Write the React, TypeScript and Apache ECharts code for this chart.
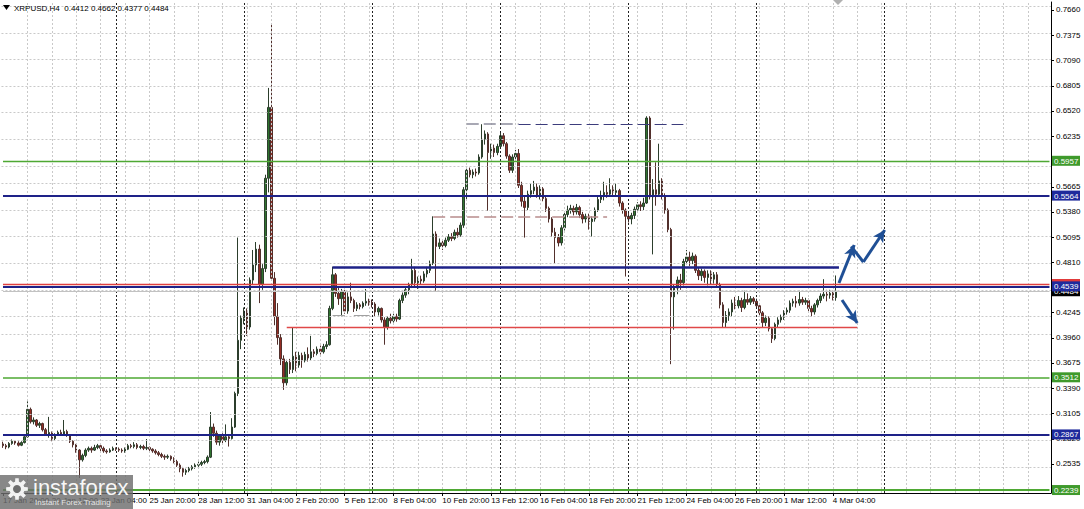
import React, { useEffect, useRef } from "react";
import * as echarts from "echarts";

const HEADER = "XRPUSD,H4  0.4412 0.4662 0.4377 0.4484";
const FIRST_BAR_UTC = Date.UTC(2021, 0, 17, 20, 0);
const BAR_MS = 4 * 3600 * 1000;
const SLOT_COUNT = 344;
const MONTHS = ["Jan", "Feb", "Mar", "Apr", "May", "Jun", "Jul", "Aug", "Sep", "Oct", "Nov", "Dec"];
const LABEL_EVERY = 16;
const LAST_LABEL_INDEX = 272;
const LIGHT_GRID_EVERY = 8;
const WEEK_SEPARATORS = [37, 79, 121, 163, 205, 247, 289];
const Y_MIN = 0.22055;
const Y_MAX = 0.77503;
const FONT = "Liberation Sans, Arial, sans-serif";
const PLOT_W = 1051;
const PLOT_TOP = 2;
const PLOT_H = 491;

// price grid; labels that sit fully under a level box are left blank as in the picture
const priceTicks = [0.766, 0.7375, 0.709, 0.6805, 0.652, 0.6235, 0.595, 0.5665, 0.538, 0.5095, 0.481, 0.4525, 0.4245, 0.396, 0.3675, 0.339, 0.3105, 0.282, 0.2535];
const priceTickLabels = ["0.7660", "0.7375", "0.7090", "0.6805", "0.6520", "0.6235", "", "0.5665", "0.5380", "0.5095", "0.4810", "", "0.4245", "0.3960", "0.3675", "0.3390", "0.3105", "0.2820", "0.2535"];

// [open, close, low, high]
const candles: number[][] = [
  [0.2760, 0.2740, 0.2715, 0.2785], [0.2740, 0.2725, 0.2700, 0.2760], [0.2725, 0.2765, 0.2710, 0.2780], [0.2765, 0.2790, 0.2750, 0.2810], [0.2790, 0.2770, 0.2750, 0.2800],
  [0.2770, 0.2745, 0.2730, 0.2790], [0.2745, 0.2775, 0.2735, 0.2790], [0.2775, 0.2840, 0.2765, 0.2860], [0.2840, 0.3150, 0.2830, 0.3240], [0.3150, 0.3010, 0.2990, 0.3170],
  // 10
  [0.3010, 0.3030, 0.2980, 0.3060], [0.3030, 0.2970, 0.2950, 0.3040], [0.2970, 0.2990, 0.2940, 0.3010], [0.2990, 0.2920, 0.2900, 0.3000], [0.2920, 0.2870, 0.2850, 0.2940],
  [0.2870, 0.2890, 0.2830, 0.3065], [0.2890, 0.2820, 0.2790, 0.2900], [0.2820, 0.2860, 0.2800, 0.2880], [0.2860, 0.2890, 0.2850, 0.2910], [0.2890, 0.2870, 0.2850, 0.2920],
  // 20
  [0.2870, 0.2900, 0.2860, 0.3030], [0.2900, 0.2860, 0.2840, 0.2920], [0.2860, 0.2790, 0.2770, 0.2870], [0.2790, 0.2750, 0.2720, 0.2800], [0.2750, 0.2690, 0.2660, 0.2760],
  [0.2690, 0.2580, 0.2375, 0.2700], [0.2580, 0.2630, 0.2560, 0.2650], [0.2630, 0.2690, 0.2610, 0.2710], [0.2690, 0.2710, 0.2670, 0.2730], [0.2710, 0.2690, 0.2660, 0.2730],
  // 30
  [0.2690, 0.2720, 0.2680, 0.2750], [0.2720, 0.2740, 0.2700, 0.2760], [0.2740, 0.2710, 0.2680, 0.2760], [0.2710, 0.2680, 0.2660, 0.2730], [0.2680, 0.2670, 0.2650, 0.2700],
  [0.2670, 0.2690, 0.2660, 0.2710], [0.2690, 0.2710, 0.2680, 0.2730], [0.2710, 0.2700, 0.2680, 0.2720], [0.2700, 0.2690, 0.2670, 0.2720], [0.2690, 0.2680, 0.2660, 0.2710],
  // 40
  [0.2680, 0.2700, 0.2660, 0.2720], [0.2700, 0.2740, 0.2690, 0.2760], [0.2740, 0.2730, 0.2710, 0.2760], [0.2730, 0.2750, 0.2710, 0.2780], [0.2750, 0.2720, 0.2700, 0.2770],
  [0.2720, 0.2730, 0.2700, 0.2750], [0.2730, 0.2710, 0.2690, 0.2750], [0.2710, 0.2720, 0.2690, 0.2815], [0.2720, 0.2700, 0.2680, 0.2730], [0.2700, 0.2680, 0.2660, 0.2710],
  // 50
  [0.2680, 0.2660, 0.2640, 0.2700], [0.2660, 0.2640, 0.2620, 0.2680], [0.2640, 0.2620, 0.2600, 0.2660], [0.2620, 0.2610, 0.2580, 0.2640], [0.2610, 0.2620, 0.2590, 0.2640],
  [0.2620, 0.2590, 0.2570, 0.2630], [0.2590, 0.2560, 0.2540, 0.2610], [0.2560, 0.2520, 0.2500, 0.2580], [0.2520, 0.2480, 0.2440, 0.2540], [0.2480, 0.2440, 0.2390, 0.2500],
  // 60
  [0.2440, 0.2460, 0.2410, 0.2480], [0.2460, 0.2480, 0.2440, 0.2500], [0.2480, 0.2500, 0.2460, 0.2520], [0.2500, 0.2520, 0.2480, 0.2540], [0.2520, 0.2530, 0.2500, 0.2560],
  [0.2530, 0.2550, 0.2510, 0.2570], [0.2550, 0.2560, 0.2530, 0.2580], [0.2560, 0.2610, 0.2540, 0.2630], [0.2610, 0.2950, 0.2600, 0.3120], [0.2950, 0.2880, 0.2840, 0.2990],
  // 70
  [0.2880, 0.2780, 0.2750, 0.2910], [0.2780, 0.2850, 0.2740, 0.2870], [0.2850, 0.2800, 0.2770, 0.2880], [0.2800, 0.2840, 0.2780, 0.2980], [0.2840, 0.2820, 0.2730, 0.2860],
  [0.2820, 0.2950, 0.2810, 0.3050], [0.2950, 0.3330, 0.2940, 0.3350], [0.3330, 0.3930, 0.3300, 0.5090], [0.3930, 0.4180, 0.3830, 0.4210], [0.4180, 0.4260, 0.4110, 0.4300],
  // 80
  [0.4260, 0.4080, 0.3980, 0.4290], [0.4080, 0.4610, 0.4050, 0.4640], [0.4610, 0.4780, 0.4560, 0.4950], [0.4780, 0.4960, 0.4700, 0.5040], [0.4960, 0.4560, 0.4350, 0.5010],
  [0.4560, 0.4740, 0.4500, 0.4790], [0.4740, 0.5760, 0.4700, 0.5800], [0.5760, 0.6560, 0.5600, 0.6780], [0.6560, 0.4630, 0.4600, 0.7500], [0.4630, 0.4200, 0.4100, 0.4700],
  // 90
  [0.4200, 0.3960, 0.3880, 0.4350], [0.3960, 0.3720, 0.3650, 0.4000], [0.3720, 0.3450, 0.3370, 0.3760], [0.3450, 0.3680, 0.3420, 0.3710], [0.3680, 0.3600, 0.3550, 0.3720],
  [0.3600, 0.3750, 0.3560, 0.4070], [0.3750, 0.3650, 0.3580, 0.3800], [0.3650, 0.3760, 0.3620, 0.3800], [0.3760, 0.3700, 0.3620, 0.3790], [0.3700, 0.3770, 0.3680, 0.3800],
  // 100
  [0.3770, 0.3730, 0.3690, 0.3850], [0.3730, 0.3800, 0.3700, 0.3980], [0.3800, 0.3780, 0.3740, 0.3830], [0.3780, 0.3830, 0.3760, 0.3860], [0.3830, 0.3800, 0.3770, 0.3870],
  [0.3800, 0.3860, 0.3780, 0.3890], [0.3860, 0.3880, 0.3830, 0.3920], [0.3880, 0.4290, 0.3870, 0.4320], [0.4290, 0.4670, 0.4270, 0.4760], [0.4670, 0.4460, 0.4420, 0.4690],
  // 110
  [0.4460, 0.4400, 0.4330, 0.4520], [0.4400, 0.4480, 0.4200, 0.4510], [0.4480, 0.4260, 0.4230, 0.4500], [0.4260, 0.4420, 0.4230, 0.4470], [0.4420, 0.4380, 0.4350, 0.4580],
  [0.4380, 0.4290, 0.4250, 0.4400], [0.4290, 0.4330, 0.4260, 0.4360], [0.4330, 0.4310, 0.4280, 0.4350], [0.4310, 0.4350, 0.4290, 0.4370], [0.4350, 0.4370, 0.4320, 0.4510],
  // 120
  [0.4370, 0.4360, 0.4320, 0.4400], [0.4360, 0.4340, 0.4300, 0.4390], [0.4340, 0.4250, 0.4200, 0.4360], [0.4250, 0.4290, 0.4210, 0.4310], [0.4290, 0.4160, 0.4130, 0.4300],
  [0.4160, 0.4080, 0.3880, 0.4190], [0.4080, 0.4180, 0.4050, 0.4200], [0.4180, 0.4150, 0.4120, 0.4230], [0.4150, 0.4200, 0.4130, 0.4230], [0.4200, 0.4170, 0.4140, 0.4230],
  // 130
  [0.4170, 0.4380, 0.4160, 0.4400], [0.4380, 0.4440, 0.4350, 0.4470], [0.4440, 0.4500, 0.4410, 0.4530], [0.4500, 0.4560, 0.4450, 0.4580], [0.4560, 0.4720, 0.4520, 0.4850],
  [0.4720, 0.4580, 0.4530, 0.4760], [0.4580, 0.4620, 0.4510, 0.4650], [0.4620, 0.4600, 0.4560, 0.4660], [0.4600, 0.4680, 0.4580, 0.4710], [0.4680, 0.4720, 0.4640, 0.4760],
  // 140
  [0.4720, 0.4800, 0.4690, 0.4830], [0.4800, 0.5130, 0.4780, 0.5330], [0.5130, 0.4990, 0.4480, 0.5160], [0.4990, 0.5030, 0.4960, 0.5080], [0.5030, 0.5000, 0.4950, 0.5060],
  [0.5000, 0.5060, 0.4980, 0.5090], [0.5060, 0.5100, 0.5040, 0.5130], [0.5100, 0.5080, 0.5050, 0.5140], [0.5080, 0.5150, 0.5060, 0.5180], [0.5150, 0.5120, 0.5090, 0.5200],
  // 150
  [0.5120, 0.5230, 0.5100, 0.5260], [0.5230, 0.5630, 0.5200, 0.5660], [0.5630, 0.5850, 0.5520, 0.5880], [0.5850, 0.5800, 0.5770, 0.5880], [0.5800, 0.5830, 0.5760, 0.5860],
  [0.5830, 0.5820, 0.5780, 0.5870], [0.5820, 0.6000, 0.5800, 0.6030], [0.6000, 0.6200, 0.5980, 0.6370], [0.6200, 0.6260, 0.6140, 0.6300], [0.6260, 0.6050, 0.5390, 0.6280],
  // 160
  [0.6050, 0.6100, 0.5980, 0.6150], [0.6100, 0.6050, 0.6000, 0.6140], [0.6050, 0.6120, 0.6020, 0.6150], [0.6120, 0.6240, 0.6090, 0.6280], [0.6240, 0.6150, 0.6120, 0.6270],
  [0.6150, 0.6010, 0.5980, 0.6170], [0.6010, 0.5850, 0.5820, 0.6030], [0.5850, 0.6000, 0.5820, 0.6030], [0.6000, 0.6040, 0.5970, 0.6080], [0.6040, 0.5680, 0.5650, 0.6090],
  // 170
  [0.5680, 0.5500, 0.5440, 0.5720], [0.5500, 0.5430, 0.5090, 0.5560], [0.5430, 0.5580, 0.5400, 0.5620], [0.5580, 0.5620, 0.5540, 0.5700], [0.5620, 0.5660, 0.5580, 0.5730],
  [0.5660, 0.5570, 0.5540, 0.5700], [0.5570, 0.5640, 0.5520, 0.5680], [0.5640, 0.5530, 0.5500, 0.5660], [0.5530, 0.5420, 0.5380, 0.5550], [0.5420, 0.5300, 0.5260, 0.5440],
  // 180
  [0.5300, 0.5150, 0.5100, 0.5320], [0.5150, 0.5090, 0.4800, 0.5200], [0.5090, 0.5030, 0.4990, 0.5130], [0.5030, 0.5200, 0.5000, 0.5230], [0.5200, 0.5350, 0.5170, 0.5380],
  [0.5350, 0.5400, 0.5320, 0.5450], [0.5400, 0.5420, 0.5360, 0.5460], [0.5420, 0.5380, 0.5340, 0.5450], [0.5380, 0.5430, 0.5350, 0.5470], [0.5430, 0.5350, 0.5310, 0.5450],
  // 190
  [0.5350, 0.5300, 0.5250, 0.5380], [0.5300, 0.5330, 0.5260, 0.5360], [0.5330, 0.5270, 0.5180, 0.5360], [0.5270, 0.5300, 0.5100, 0.5330], [0.5300, 0.5400, 0.5270, 0.5430],
  [0.5400, 0.5520, 0.5380, 0.5560], [0.5520, 0.5560, 0.5480, 0.5620], [0.5560, 0.5600, 0.5510, 0.5720], [0.5600, 0.5580, 0.5540, 0.5680], [0.5580, 0.5630, 0.5550, 0.5760],
  // 200
  [0.5630, 0.5600, 0.5570, 0.5680], [0.5600, 0.5620, 0.5570, 0.5700], [0.5620, 0.5480, 0.5440, 0.5640], [0.5480, 0.5400, 0.5360, 0.5500], [0.5400, 0.5330, 0.4650, 0.5420],
  [0.5330, 0.5300, 0.5260, 0.5370], [0.5300, 0.5340, 0.5240, 0.5370], [0.5340, 0.5410, 0.5300, 0.5440], [0.5410, 0.5460, 0.5370, 0.5490], [0.5460, 0.5440, 0.5390, 0.5500],
  // 210
  [0.5440, 0.5480, 0.5400, 0.5540], [0.5480, 0.6440, 0.5470, 0.6460], [0.6440, 0.5550, 0.5520, 0.6460], [0.5550, 0.5630, 0.4900, 0.5750], [0.5630, 0.5580, 0.5450, 0.5940],
  [0.5580, 0.5730, 0.5550, 0.6150], [0.5730, 0.5560, 0.5520, 0.5760], [0.5560, 0.5400, 0.5360, 0.5590], [0.5400, 0.5180, 0.5150, 0.5420], [0.5180, 0.4420, 0.3660, 0.5200],
  // 220
  [0.4420, 0.4520, 0.4050, 0.4560], [0.4520, 0.4610, 0.4450, 0.4650], [0.4610, 0.4580, 0.4500, 0.4680], [0.4580, 0.4820, 0.4550, 0.4850], [0.4820, 0.4870, 0.4780, 0.4950],
  [0.4870, 0.4830, 0.4770, 0.4930], [0.4830, 0.4880, 0.4790, 0.4920], [0.4880, 0.4720, 0.4690, 0.4900], [0.4720, 0.4660, 0.4610, 0.4750], [0.4660, 0.4710, 0.4600, 0.4740],
  // 230
  [0.4710, 0.4640, 0.4580, 0.4730], [0.4640, 0.4680, 0.4550, 0.4720], [0.4680, 0.4620, 0.4560, 0.4720], [0.4620, 0.4670, 0.4570, 0.4700], [0.4670, 0.4560, 0.4530, 0.4700],
  [0.4560, 0.4330, 0.4290, 0.4580], [0.4330, 0.4130, 0.4070, 0.4360], [0.4130, 0.4210, 0.4080, 0.4260], [0.4210, 0.4250, 0.4150, 0.4290], [0.4250, 0.4350, 0.4200, 0.4390],
  // 240
  [0.4350, 0.4320, 0.4280, 0.4420], [0.4320, 0.4380, 0.4290, 0.4430], [0.4380, 0.4300, 0.4250, 0.4410], [0.4300, 0.4390, 0.4280, 0.4490], [0.4390, 0.4360, 0.4330, 0.4460],
  [0.4360, 0.4400, 0.4330, 0.4430], [0.4400, 0.4370, 0.4340, 0.4420], [0.4370, 0.4320, 0.4290, 0.4400], [0.4320, 0.4240, 0.4200, 0.4340], [0.4240, 0.4130, 0.4080, 0.4260],
  // 250
  [0.4130, 0.4180, 0.4090, 0.4210], [0.4180, 0.4060, 0.4030, 0.4200], [0.4060, 0.3950, 0.3900, 0.4080], [0.3950, 0.4110, 0.3930, 0.4130], [0.4110, 0.4160, 0.4080, 0.4190],
  [0.4160, 0.4190, 0.4130, 0.4220], [0.4190, 0.4250, 0.4160, 0.4270], [0.4250, 0.4270, 0.4220, 0.4300], [0.4270, 0.4350, 0.4240, 0.4380], [0.4350, 0.4370, 0.4310, 0.4400],
  // 260
  [0.4370, 0.4350, 0.4300, 0.4430], [0.4350, 0.4390, 0.4320, 0.4490], [0.4390, 0.4360, 0.4330, 0.4420], [0.4360, 0.4380, 0.4330, 0.4410], [0.4380, 0.4290, 0.4260, 0.4400],
  [0.4290, 0.4250, 0.4200, 0.4320], [0.4250, 0.4330, 0.4220, 0.4350], [0.4330, 0.4380, 0.4300, 0.4400], [0.4380, 0.4430, 0.4350, 0.4460], [0.4430, 0.4450, 0.4400, 0.4620],
  // 270
  [0.4450, 0.4440, 0.4370, 0.4500], [0.4440, 0.4460, 0.4400, 0.4500], [0.4460, 0.4412, 0.4380, 0.4490], [0.4412, 0.4484, 0.4377, 0.4662],
];

// horizontal levels across the whole chart, with their price boxes (drawn in this order)
const levelPrices = [0.5957, 0.5564, 0.4566, 0.4484, 0.4539, 0.3512, 0.2867, 0.2239];
const levelLabels = ["0.5957", "0.5564", "", "0.4484", "0.4539", "0.3512", "0.2867", "0.2239"];
const levelColors = ["#4ea833", "#1e2288", "#e04040", "#c2c2c2", "#1e2288", "#4ea833", "#1e2288", "#4ea833"];
const levelWidths = [1.4, 2, 1.3, 1, 2, 1.5, 2, 2];
const levelBoxColors = ["#3f9a2c", "#1e2a9c", "#e03a3a", "#000000", "#1e2a9c", "#3f9a2c", "#1e2a9c", "#3f9a2c"];

// drawn segments: [fromBar, fromPrice, toBar, toPrice]
const segmentCoords = [
  [108, 0.4758, 274, 0.4758],
  [93, 0.4078, 280, 0.4078],
  [152, 0.6373, 169, 0.6373],
  [169, 0.6373, 223, 0.6373],
  [141, 0.5326, 198, 0.5326],
  [108, 0.4216, 112, 0.4216],
  [115, 0.4216, 120, 0.4216],
];
const segmentColors = ["#1e2288", "#e04848", "#8c8c9c", "#3c3c7c", "#b88c8c", "#a0a0a0", "#a0a0a0"];
const segmentWidths = [2.5, 1.3, 1.5, 1.2, 1.5, 1, 1];
const segmentDashed = [false, false, true, true, true, false, false];

// forecast arrows: [fromBar, fromPrice, toBar, toPrice, hasHead]
const arrowCoords = [
  [274, 0.4577, 279, 0.5006, 1],
  [278, 0.4990, 282, 0.4814, 0],
  [282, 0.4814, 289, 0.5176, 1],
  [275, 0.4385, 280, 0.4125, 1],
];

function fmtTime(ms: number) {
  const d = new Date(ms);
  const hh = String(d.getUTCHours()).padStart(2, "0");
  const mm = String(d.getUTCMinutes()).padStart(2, "0");
  return `${d.getUTCDate()} ${MONTHS[d.getUTCMonth()]} ${hh}:${mm}`;
}

function gearPoints(cx: number, cy: number) {
  const pts: number[][] = [];
  for (let k = 0; k < 8; k++) {
    const a = (k * 45 * Math.PI) / 180;
    const defs = [[-15, 7.5], [-9, 11], [9, 11], [15, 7.5]];
    defs.forEach(([da, r]) => {
      const ang = a + (da * Math.PI) / 180;
      pts.push([cx + r * Math.cos(ang), cy + r * Math.sin(ang)]);
    });
  }
  return pts;
}

export default function App() {
  const ref = useRef<HTMLDivElement>(null);

  useEffect(() => {
    if (!ref.current) return;
    const chart = echarts.init(ref.current, undefined, { renderer: "svg" });

    const categories: string[] = [];
    for (let i = 0; i < SLOT_COUNT; i++) categories.push(fmtTime(FIRST_BAR_UTC + i * BAR_MS));

    const showLabel = (i: number) => i % LABEL_EVERY === 0 && i <= LAST_LABEL_INDEX;

    const gridLine = { color: "#c9c9c9", type: [2, 2] as any, width: 1 };
    const gridMarks: any[] = [];
    priceTicks.forEach((v) => {
      gridMarks.push({ yAxis: v, lineStyle: gridLine, label: { show: false } });
    });
    for (let i = LIGHT_GRID_EVERY; i < SLOT_COUNT; i += LIGHT_GRID_EVERY) {
      if (WEEK_SEPARATORS.indexOf(i) >= 0) continue;
      gridMarks.push({ xAxis: i, lineStyle: gridLine, label: { show: false } });
    }
    WEEK_SEPARATORS.forEach((i) => {
      gridMarks.push({ xAxis: i, lineStyle: { color: "#222", type: [2, 2], width: 1 }, label: { show: false } });
    });

    const levelMarks: any[] = [];
    levelPrices.forEach((p, k) => {
      levelMarks.push([
        {
          coord: [0, p],
          symbol: "none",
          lineStyle: { color: levelColors[k], width: levelWidths[k], type: "solid" },
          label: { show: false },
        },
        { coord: [SLOT_COUNT - 1, p], symbol: "none" },
      ]);
    });
    segmentCoords.forEach((s, k) => {
      levelMarks.push([
        {
          coord: [s[0], s[1]],
          symbol: "none",
          lineStyle: { color: segmentColors[k], width: segmentWidths[k], type: segmentDashed[k] ? [12, 5] : "solid" },
          label: { show: false },
        },
        { coord: [s[2], s[3]], symbol: "none" },
      ]);
    });
    arrowCoords.forEach((a) => {
      levelMarks.push([
        {
          coord: [a[0], a[1]],
          symbol: "none",
          lineStyle: { color: "#1f4f95", width: 3, type: "solid" },
          label: { show: false },
        },
        { coord: [a[2], a[3]], symbol: a[4] ? "arrow" : "none", symbolSize: [9, 12] },
      ]);
    });

    const option: any = {
      animation: false,
      backgroundColor: "#ffffff",
      grid: { left: 0, top: PLOT_TOP, width: PLOT_W, height: PLOT_H, containLabel: false },
      xAxis: {
        type: "category",
        data: categories,
        boundaryGap: true,
        axisLine: { show: true, lineStyle: { color: "#000", width: 1 } },
        axisTick: { show: true, alignWithLabel: true, interval: (i: number) => showLabel(i), length: 3, lineStyle: { color: "#000" } },
        axisLabel: {
          show: true,
          interval: (i: number) => showLabel(i),
          align: "left",
          margin: 3,
          fontSize: 8,
          color: "#000",
          fontFamily: FONT,
        },
        splitLine: { show: false },
      },
      yAxis: {
        type: "value",
        position: "right",
        min: Y_MIN,
        max: Y_MAX,
        axisLine: { show: true, lineStyle: { color: "#000", width: 1 } },
        axisTick: { show: false },
        axisLabel: { show: false },
        splitLine: { show: false },
      },
      series: [
        {
          type: "line",
          data: [],
          z: 1,
          silent: true,
          markLine: { silent: true, symbol: ["none", "none"], animation: false, data: gridMarks },
        },
        {
          type: "candlestick",
          data: candles,
          barWidth: 2,
          z: 3,
          itemStyle: {
            color: "#2f742f",
            color0: "#942d24",
            borderColor: "#2c3e2c",
            borderColor0: "#52302c",
            borderWidth: 1,
          },
        },
        {
          type: "line",
          data: [],
          z: 5,
          silent: true,
          clip: false,
          markLine: { silent: true, symbol: ["none", "none"], animation: false, data: levelMarks },
        },
      ],
    };

    chart.setOption(option);

    // price-scale texts, placed with the chart's own y scale
    const yPix = (p: number) => chart.convertToPixel({ yAxisIndex: 0 }, p) as number;
    const axisX = PLOT_W;
    const graphics: any[] = [];
    priceTicks.forEach((v, k) => {
      const y = Math.round(yPix(v)) + 0.5;
      graphics.push({ type: "line", shape: { x1: axisX, y1: y, x2: axisX + 3, y2: y }, style: { stroke: "#000", lineWidth: 1 }, z: 30 });
      if (priceTickLabels[k]) {
        graphics.push({
          type: "text",
          x: axisX + 5,
          y: yPix(v),
          style: { text: priceTickLabels[k], fontSize: 8, fill: "#000", fontFamily: FONT, verticalAlign: "middle" },
          z: 30,
        });
      }
    });
    levelPrices.forEach((p, k) => {
      const y = yPix(p);
      graphics.push({ type: "rect", shape: { x: axisX + 1, y: y - 5, width: 28, height: 10 }, style: { fill: levelBoxColors[k] }, z: 40 + k });
      if (levelLabels[k]) {
        graphics.push({
          type: "text",
          x: axisX + 3,
          y: y + 0.5,
          style: { text: levelLabels[k], fontSize: 8, fill: "#fff", fontFamily: FONT, verticalAlign: "middle" },
          z: 40 + k,
        });
      }
    });
    graphics.push(
      { type: "polygon", shape: { points: [[3, 5], [10, 5], [6.5, 10]] }, style: { fill: "#000" }, z: 60 },
      { type: "text", x: 14, y: 8, style: { text: HEADER, fontSize: 8, fill: "#000", fontFamily: FONT, verticalAlign: "middle" }, z: 60 },
      { type: "polygon", shape: { points: [[833, 0], [843, 0], [838, 5]] }, style: { fill: "#b0b0b0" }, z: 60 },
      { type: "rect", shape: { x: 0, y: 475, width: 133, height: 34 }, style: { fill: "rgba(110,110,110,0.82)" }, z: 70 },
      { type: "polygon", shape: { points: gearPoints(17, 489) }, style: { fill: "rgba(255,255,255,0.9)" }, z: 71 },
      { type: "circle", shape: { cx: 17, cy: 489, r: 4 }, style: { fill: "rgb(110,110,110)" }, z: 72 },
      { type: "text", x: 33, y: 487, style: { text: "instaforex", fontSize: 22, fill: "rgba(255,255,255,0.95)", fontFamily: FONT, verticalAlign: "middle" }, z: 72 },
      { type: "text", x: 35, y: 502, style: { text: "Instant Forex Trading", fontSize: 8, fill: "rgba(235,235,235,0.95)", fontFamily: FONT, verticalAlign: "middle" }, z: 72 }
    );
    chart.setOption({ graphic: graphics });

    return () => chart.dispose();
  }, []);

  return <div ref={ref} style={{ position: "fixed", left: 0, top: 0, width: 1084, height: 509, background: "#fff" }} />;
}
